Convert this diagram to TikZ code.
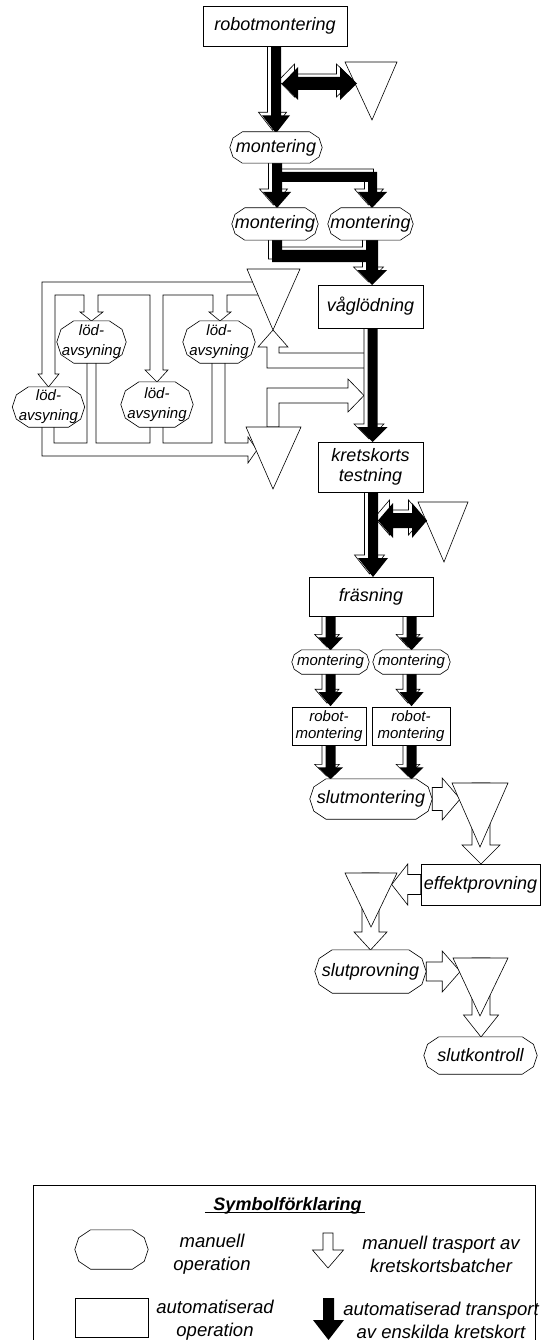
\documentclass[tikz,border=0pt]{standalone}
\usepackage{fontspec}
\setmainfont{Liberation Sans}
\usetikzlibrary{calc}
\pgfdeclarelayer{back}
\pgfdeclarelayer{mid}
\pgfsetlayers{back,mid,main}

\tikzset{
  bigtext/.style={font=\itshape\fontsize{18}{19.5}\selectfont},
  smalltext/.style={font=\itshape\fontsize{15}{17}\selectfont},
  legtext/.style={font=\itshape\fontsize{18.5}{23}\selectfont, align=center},
  autoop/.style={draw, fill=white, line width=0.6pt, inner sep=0pt, align=center},
  manop/.style={inner sep=0pt, align=center},
  opline/.style={draw, fill=white, line width=0.6pt},
  lager/.style={draw, fill=white, line width=0.6pt},
  manualflow/.style={draw, fill=white, line width=0.6pt},
  autoflow/.style={fill=black, preaction={draw, fill=white, line width=0.6pt,
      transform canvas={shift={(-3.5pt,3pt)}}}},
  pics/pil/.style n args={5}{code={
    \path[#1] (-#3,0) -- (#3,0) -- (#3,#2-#5) -- (#4,#2-#5) -- (0,#2)
      -- (-#4,#2-#5) -- (-#3,#2-#5) -- cycle;}}
}

% ram for manuell operation
\newcommand\octram[1]{%
  \draw[opline] let \p1=(#1.south west), \p2=(#1.north east) in
    ({\x1+0.4*(\y2-\y1)},\y2) -- ({\x2-0.4*(\y2-\y1)},\y2)
    -- ({\x2-0.1*(\y2-\y1)},{\y2-0.2*(\y2-\y1)}) -- (\x2,{0.5*(\y1+\y2)})
    -- ({\x2-0.1*(\y2-\y1)},{\y1+0.2*(\y2-\y1)}) -- ({\x2-0.4*(\y2-\y1)},\y1)
    -- ({\x1+0.4*(\y2-\y1)},\y1) -- ({\x1+0.1*(\y2-\y1)},{\y1+0.2*(\y2-\y1)})
    -- (\x1,{0.5*(\y1+\y2)}) -- ({\x1+0.1*(\y2-\y1)},{\y2-0.2*(\y2-\y1)}) -- cycle;}

\begin{document}
\begin{tikzpicture}[x=1pt, y=-1pt]
  \useasboundingbox (0,0) rectangle (541,1340);

  % operationer
  \node[autoop, bigtext, minimum width=144pt, minimum height=40pt] (rm) at (275,26) {robotmontering};
  \node[manop, bigtext, minimum width=92pt, minimum height=31pt] (m1) at (276,147.5) {montering};
  \node[manop, bigtext, minimum width=86pt, minimum height=32pt] (m2) at (275,224) {montering};
  \node[manop, bigtext, minimum width=85pt, minimum height=32pt] (m3) at (370.5,224) {montering};
  \node[autoop, bigtext, minimum width=105pt, minimum height=43pt] (vl) at (370.5,306.5) {våglödning};
  \node[autoop, bigtext, minimum width=105pt, minimum height=50pt] (kt) at (370.5,467) {kretskorts\\testning};

  \node[manop, smalltext, minimum width=72pt, minimum height=40pt, font=\itshape\fontsize{15}{20}\selectfont] (la1) at (48.5,407) {löd-\\avsyning};
  \node[manop, smalltext, minimum width=69pt, minimum height=42pt, font=\itshape\fontsize{15}{20}\selectfont] (la2) at (91.5,342) {löd-\\avsyning};
  \node[manop, smalltext, minimum width=72pt, minimum height=45pt, font=\itshape\fontsize{15}{20}\selectfont] (la3) at (157,404.5) {löd-\\avsyning};
  \node[manop, smalltext, minimum width=72pt, minimum height=42pt, font=\itshape\fontsize{15}{20}\selectfont] (la4) at (219,342) {löd-\\avsyning};

  \node[autoop, bigtext, minimum width=124pt, minimum height=39pt] (fr) at (371,596.5) {fräsning};
  \node[manop, smalltext, minimum width=77pt, minimum height=24pt] (m4) at (330.5,662) {montering};
  \node[manop, smalltext, minimum width=77pt, minimum height=24pt] (m5) at (411.5,662) {montering};
  \node[autoop, smalltext, minimum width=74pt, minimum height=38pt] (rb1) at (329,726) {robot-\\montering};
  \node[autoop, smalltext, minimum width=78pt, minimum height=38pt] (rb2) at (411,726) {robot-\\montering};
  \node[manop, bigtext, minimum width=122pt, minimum height=40pt] (sm) at (371,799) {slutmontering};
  \node[autoop, bigtext, minimum width=119pt, minimum height=41pt] (ep) at (480.5,884.5) {effektprovning};
  \node[manop, bigtext, minimum width=111pt, minimum height=43pt] (sp) at (370.5,971.5) {slutprovning};
  \node[manop, bigtext, minimum width=113pt, minimum height=37pt] (sk) at (480.5,1055.5) {slutkontroll};

  % symbolförklaring
  \draw[line width=0.6pt] (33,1350) |- (535,1185) -- (535,1350);
  \node[anchor=base, font=\bfseries\itshape\fontsize{18}{20}\selectfont] (ttl) at (287.5,1210) {Symbolförklaring};
  \draw[line width=1.2pt] ([shift={(-5,2.5)}]ttl.base west) -- ([shift={(0,2.5)}]ttl.base east);
  \node[manop, minimum width=73pt, minimum height=39pt] (lgm) at (111.5,1249.5) {};
  \node[autoop, minimum width=73pt, minimum height=39pt] (lga) at (111.5,1317.5) {};
  \node[legtext] (lt1) at (212,1254) {manuell\\operation};
  \node[legtext] (lt2) at (215,1320) {automatiserad\\operation};
  \node[legtext] (lt3) at (441,1254) {manuell trasport av\\kretskortsbatcher};
  \node[legtext] (lt4) at (441,1320) {automatiserad transport\\av enskilda kretskort};

  \begin{pgfonlayer}{mid}
    \foreach \op in {m1,m2,m3,la1,la2,la3,la4,m4,m5,sm,sp,sk,lgm}
      \octram{\op};
  \end{pgfonlayer}

  \begin{pgfonlayer}{back}
    % manuell transport, lödavsyning
    \path[manualflow] (258,282) -- (42,282) -- (42,374) -- (38,374) -- (48.5,387) -- (59,374)
      -- (55,374) -- (55,295) -- (84,295) -- (84,312) -- (80,312) -- (91.5,321) -- (103,312)
      -- (98,312) -- (98,295) -- (150,295) -- (150,370) -- (145,370) -- (157,382) -- (168,370)
      -- (163,370) -- (163,295) -- (213,295) -- (213,312) -- (209,312) -- (220,321) -- (231,312)
      -- (227,312) -- (227,295) -- (262,295) -- cycle;
    \path[manualflow] (42,420) -- (42,456) -- (248,456) -- (248,463) -- (257,450) -- (248,437)
      -- (248,443) -- (225,443) -- (225,360) -- (212,360) -- (212,443) -- (163,443) -- (163,420)
      -- (150,420) -- (150,443) -- (96,443) -- (96,360) -- (87,360) -- (87,443) -- (54,443)
      -- (54,420) -- cycle;
    \path[manualflow] (366,353) -- (279,353) -- (279,347) -- (288,347) -- (273,330) -- (258,347)
      -- (267,347) -- (267,368) -- (366,368) -- cycle;
    \path[manualflow] (267,427) -- (267,388) -- (348,388) -- (348,379) -- (364,395.5) -- (348,412)
      -- (348,403) -- (279,403) -- (279,427) -- cycle;

    % manuell transport, slut
    \pic[rotate=90] at (sm.east) {pil={manualflow}{28}{11.5}{21}{18}};
    \pic at (481,783) {pil={manualflow}{81}{9}{19}{19}};
    \pic[rotate=-90] at (ep.west) {pil={manualflow}{29}{10}{20.5}{16}};
    \pic at (370.5,873) {pil={manualflow}{77}{8.5}{16.5}{18}};
    \pic[rotate=90] at (sp.east) {pil={manualflow}{34}{9.5}{20.5}{18}};
    \pic at (481,958) {pil={manualflow}{79}{9}{17.5}{22}};
    \pic at (328,1233) {pil={manualflow}{35}{5}{15.5}{18}};

    % lager
    \draw[lager] (345,62) -- (397,62) -- (372,120) -- cycle;
    \draw[lager] (247,269) -- (300,269) -- (273,330) -- cycle;
    \draw[lager] (246,427) -- (301,427) -- (273,489) -- cycle;
    \draw[lager] (418,502) -- (468,502) -- (444,562) -- cycle;
    \draw[lager] (452,783) -- (508,783) -- (480,847) -- cycle;
    \draw[lager] (345,873) -- (397,873) -- (371,927) -- cycle;
    \draw[lager] (453,958) -- (508,958) -- (480,1016) -- cycle;

    % automatiserad transport
    \path[autoflow] (282,83.5) -- (298,67) -- (298,77) -- (340,77) -- (340,67) -- (357,83.5)
      -- (340,100) -- (340,90) -- (298,90) -- (298,100) -- cycle;
    \pic at (rm.south -| m1) {pil={autoflow}{87}{5}{14}{18}};
    \path[autoflow] (272,163) -- (282,163) -- (282,172) -- (377,172) -- (377,192) -- (387,192)
      -- (372,208) -- (358,192) -- (368,192) -- (368,182) -- (282,182) -- (282,192) -- (291,192)
      -- (277,208) -- (263,192) -- (272,192) -- cycle;
    \path[autoflow] (272,240) -- (282,240) -- (282,250) -- (366,250) -- (366,240) -- (378,240)
      -- (378,270) -- (387,270) -- (372,285) -- (357,270) -- (366,270) -- (366,262) -- (272,262) -- cycle;
    \pic at (372.5,328) {pil={autoflow}{114}{5}{15}{15}};
    \path[autoflow] (378,520.5) -- (393,503) -- (393,513) -- (412,513) -- (412,503) -- (427,520.5)
      -- (412,538) -- (412,528) -- (393,528) -- (393,538) -- cycle;
    \pic at (373,492) {pil={autoflow}{85}{5}{15}{19}};
    \pic at (fr.south -| m4) {pil={autoflow}{34}{5}{12.5}{13}};
    \pic at (fr.south -| m5) {pil={autoflow}{34}{5}{12}{13}};
    \pic at (m4.south) {pil={autoflow}{32}{5}{12}{14}};
    \pic at (m5.south) {pil={autoflow}{32}{5}{12}{14}};
    \pic at (rb1.south -| m4) {pil={autoflow}{34}{5}{12.5}{12}};
    \pic at (rb2.south -| m5) {pil={autoflow}{34}{5}{12}{12}};
    \pic at (328.5,1298) {pil={fill=black}{42}{5.5}{15.5}{20}};
  \end{pgfonlayer}
\end{tikzpicture}
\end{document}
